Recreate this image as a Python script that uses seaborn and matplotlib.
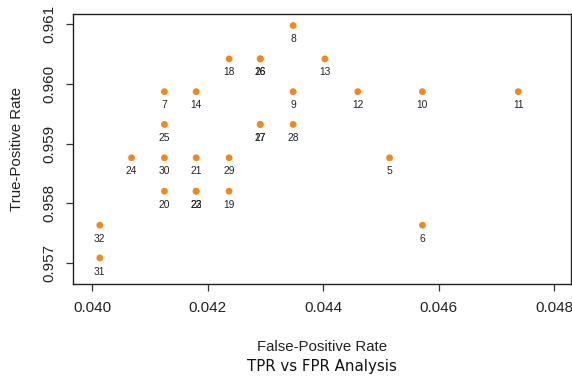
import matplotlib
matplotlib.use("Agg")
import matplotlib.pyplot as plt
import seaborn as sns
import pandas as pd

labels = ["5", "6", "7", "8", "9", "10", "11", "12", "13", "14", "16", "17",
          "18", "19", "20", "21", "22", "23", "24", "25", "26", "27", "28",
          "29", "30", "31", "32"]
fpr = [0.04515, 0.04572, 0.04125, 0.04348, 0.04348, 0.04572, 0.04738, 0.04460,
       0.04403, 0.04180, 0.04291, 0.04291, 0.04237, 0.04237, 0.04125, 0.04180,
       0.04180, 0.04180, 0.04068, 0.04125, 0.04291, 0.04291, 0.04348, 0.04237,
       0.04125, 0.04013, 0.04013]
tpr = [0.95876, 0.95763, 0.95987, 0.96098, 0.95987, 0.95987, 0.95987, 0.95987,
       0.96042, 0.95987, 0.96042, 0.95932, 0.96042, 0.95820, 0.95820, 0.95876,
       0.95820, 0.95820, 0.95876, 0.95932, 0.96042, 0.95932, 0.95932, 0.95876,
       0.95876, 0.95708, 0.95763]
x_ticks = [0.040, 0.042, 0.044, 0.046, 0.048]
y_ticks = [0.957, 0.958, 0.959, 0.960, 0.961]
x_tick_labels = ["0.040", "0.042", "0.044", "0.046", "0.048"]
y_tick_labels = ["0.957", "0.958", "0.959", "0.960", "0.961"]

df = pd.DataFrame({"label": labels, "fpr": fpr, "tpr": tpr})

sns.set_style("ticks")
plt.rcParams["font.family"] = ["Liberation Sans", "DejaVu Sans"]

W, H = 572, 376
fig = plt.figure(figsize=(W / 100, H / 100), dpi=100)
ax = fig.add_axes([73 / W, (H - 284) / H, (571 - 73) / W, (284 - 14) / H])

sns.scatterplot(data=df, x="fpr", y="tpr", ax=ax, color="#F5871F",
                s=24, edgecolor="none", linewidth=0, zorder=3)

for _, r in df.iterrows():
    ax.annotate(r["label"], (r["fpr"], r["tpr"]), xytext=(0, -9.8),
                textcoords="offset points", ha="center", va="center",
                fontsize=7.4, color="#222222")

ax.set_xlim(0.039666, 0.048294)
ax.set_ylim(0.956643, 0.961173)
ax.set_xticks(x_ticks)
ax.set_xticklabels(x_tick_labels)
ax.set_yticks(y_ticks)
ax.set_yticklabels(y_tick_labels, rotation=90, va="center")
ax.tick_params(axis="both", length=5, width=0.9, colors="#333333",
               labelsize=11, labelcolor="#222222", pad=7)
for sp in ax.spines.values():
    sp.set_color("#222222")
    sp.set_linewidth(1.0)

ax.set_xlabel("")
ax.set_ylabel("")
fig.text((73 + 571) / 2 / W, 1 - 347 / H, "False-Positive Rate",
         ha="center", va="center", fontsize=10.8, color="#222222")
fig.text(17 / W, 1 - 149 / H, "True-Positive Rate", rotation=90,
         ha="center", va="center", fontsize=10.8, color="#222222")
fig.text((73 + 571) / 2 / W, 1 - 367 / H, "TPR vs FPR Analysis",
         ha="center", va="center", fontsize=10.8, color="#111111",
         family="DejaVu Sans")

fig.savefig("out.png", dpi=100)
